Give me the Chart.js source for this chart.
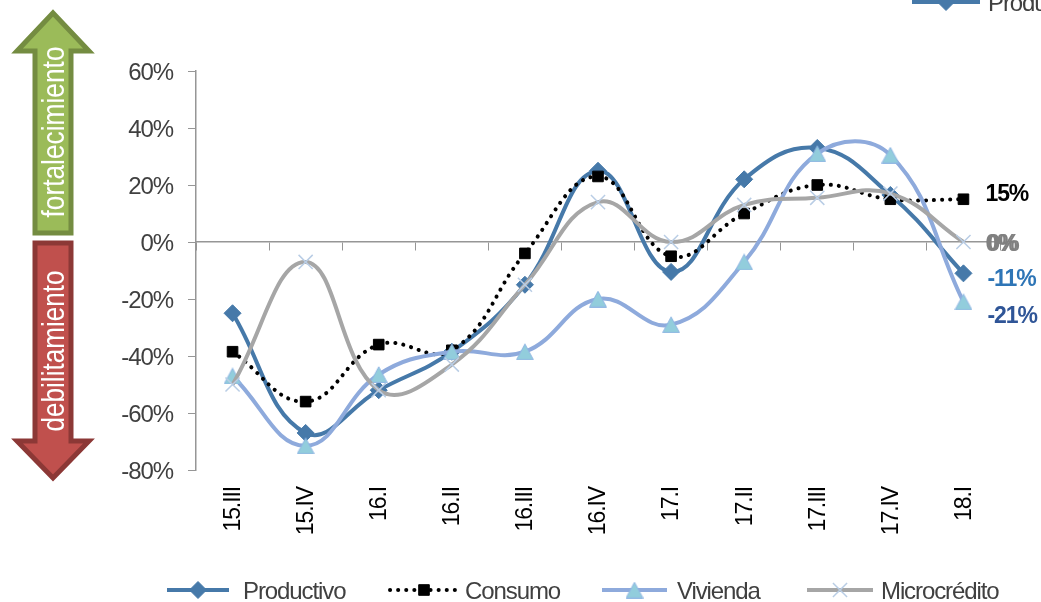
<!DOCTYPE html>
<html lang="es">
<head>
<meta charset="utf-8">
<title>Fortalecimiento y debilitamiento por cartera</title>
<script src="https://cdn.jsdelivr.net/npm/chart.js@4"></script>
<style>
    html, body { margin: 0; padding: 0; background: #fff; overflow: hidden; }
    #wrap { position: relative; width: 1041px; height: 602px; }
    #chart, #arrows { position: absolute; left: 0; top: 0; }
    #arrows text { font-family: "Liberation Sans", Arial, sans-serif; font-size: 32px; fill: #fff; text-anchor: middle; }
</style>
</head>
<body>
<div id="wrap">
    <canvas id="chart" width="1041" height="602"></canvas>
    <svg id="arrows" width="120" height="500">
        <path d="M53 13 L89 51 L71 51 L71 233 L35 233 L35 51 L17 51 Z" fill="#9bbb59" stroke="#748c41" stroke-width="5"/>
        <path d="M35 243 L71 243 L71 441 L89 441 L53 478 L17 441 L35 441 Z" fill="#c0504d" stroke="#8c3836" stroke-width="5"/>
        <text transform="translate(64 132) rotate(-90)" textLength="171" lengthAdjust="spacingAndGlyphs">fortalecimiento</text>
        <text transform="translate(64 351) rotate(-90)" textLength="161" lengthAdjust="spacingAndGlyphs">debilitamiento</text>
    </svg>
</div>
<script>
"use strict";

const categories = ["15.III", "15.IV", "16.I", "16.II", "16.III", "16.IV", "17.I", "17.II", "17.III", "17.IV", "18.I"];
const productivo = [-25, -67, -52, -38.5, -15, 25, -10.5, 22, 33, 16.5, -11];
const consumo = [-38.5, -56, -36, -38, -4, 23, -5, 10, 20, 15, 15];
const vivienda = [-47, -71.5, -46.5, -38.5, -38.5, -20, -29, -7, 31, 30.5, -21];
const microcredito = [-50, -7, -52, -43, -15, 14, 0, 13, 15.5, 17, 0];
const yTicks = [-80, -60, -40, -20, 0, 20, 40, 60];

const FONT = '"Liberation Sans", Arial, sans-serif';
const AXIS_GREY = "#969696";
const TEXT_GREY = "#404040";

// value labels to the right of the last quarter: dataset index, text, colour, offset from the point
const endLabels = [
    { series: 1, text: "15%", color: "#000000", dx: 22, dy: -5 },
    { series: 3, text: "0%", color: "#808080", dx: 24, dy: 3 },
    { series: 3, text: "0%", color: "#808080", dx: 22, dy: 3 },
    { series: 0, text: "-11%", color: "#2e75b6", dx: 24, dy: 6 },
    { series: 2, text: "-21%", color: "#2f5597", dx: 24, dy: 15 }
];

// legend row at the bottom, and the stray copy of the first entry cut off at the top right
const legendEntries = [
    { series: 0, x1: 167, x2: 229, text: 243, y: 590 },
    { series: 1, x1: 390, x2: 458, text: 465, y: 590 },
    { series: 2, x1: 602, x2: 667, text: 677, y: 590 },
    { series: 3, x1: 807, x2: 873, text: 881, y: 590 },
    { series: 0, x1: 912, x2: 980, text: 988, y: 2 }
];

/**
 * The Excel triangle sits centred on its point, the built in one does not.
 */
function triangleMarker() {
    const marker = document.createElement("canvas");
    marker.width = 18;
    marker.height = 17;
    const ctx = marker.getContext("2d");
    ctx.fillStyle = "#92cddc";
    ctx.strokeStyle = "#8eb4e3";
    ctx.lineWidth = 1;
    ctx.beginPath();
    ctx.moveTo(9, 0.8);
    ctx.lineTo(17.4, 16.4);
    ctx.lineTo(0.6, 16.4);
    ctx.closePath();
    ctx.fill();
    ctx.stroke();
    return marker;
}

/**
 * Draws the end labels and the legend, the swatches copy the style of each dataset.
 */
const annotations = {
    id: "annotations",
    beforeDraw: function (chart) {
        chart.ctx.letterSpacing = "-1.1px";
    },
    afterDatasetsDraw: function (chart) {
        const ctx = chart.ctx;
        const last = categories.length - 1;

        ctx.save();
        ctx.textBaseline = "middle";
        ctx.textAlign = "left";
        ctx.font = "bold 23px " + FONT;
        endLabels.forEach(function (label) {
            const ds = chart.data.datasets[label.series];
            ctx.fillStyle = label.color;
            ctx.fillText(label.text,
                chart.scales.x.getPixelForValue(last) + label.dx,
                chart.scales.y.getPixelForValue(ds.data[last]) + label.dy);
        });

        ctx.font = "24px " + FONT;
        legendEntries.forEach(function (entry) {
            const ds = chart.data.datasets[entry.series];
            ctx.save();
            ctx.strokeStyle = ds.borderColor;
            ctx.lineWidth = ds.borderWidth;
            ctx.lineCap = ds.borderCapStyle || "butt";
            ctx.setLineDash(ds.borderDash || []);
            ctx.beginPath();
            ctx.moveTo(entry.x1, entry.y);
            ctx.lineTo(entry.x2, entry.y);
            ctx.stroke();
            ctx.restore();

            ctx.save();
            ctx.fillStyle = ds.pointBackgroundColor;
            ctx.strokeStyle = ds.pointBorderColor;
            ctx.lineWidth = ds.pointBorderWidth;
            Chart.helpers.drawPoint(ctx, { pointStyle: ds.pointStyle, radius: ds.pointRadius, rotation: 0, borderWidth: ds.pointBorderWidth },
                (entry.x1 + entry.x2) / 2, entry.y);
            ctx.restore();

            ctx.fillStyle = TEXT_GREY;
            ctx.fillText(ds.label, entry.text, entry.y + 2);
        });
        ctx.restore();
    }
};

new Chart(document.getElementById("chart"), {
    type: "line",
    data: {
        labels: categories,
        datasets: [
            {
                label: "Productivo", data: productivo, order: 4,
                borderColor: "#4679a9", borderWidth: 4,
                pointStyle: "rectRot", pointRadius: 8.5, pointBackgroundColor: "#4679a9", pointBorderColor: "#4679a9", pointBorderWidth: 1
            },
            {
                label: "Consumo", data: consumo, order: 3,
                borderColor: "#000000", borderWidth: 4, borderDash: [0.1, 8], borderCapStyle: "round",
                pointStyle: "rect", pointRadius: 7.5, pointBackgroundColor: "#000000", pointBorderColor: "#000000", pointBorderWidth: 1
            },
            {
                label: "Vivienda", data: vivienda, order: 2,
                borderColor: "#8eaadc", borderWidth: 4,
                pointStyle: triangleMarker(), pointRadius: 10, pointBackgroundColor: "#92cddc", pointBorderColor: "#8eb4e3", pointBorderWidth: 1
            },
            {
                label: "Microcrédito", data: microcredito, order: 1,
                borderColor: "#a6a6a6", borderWidth: 4,
                pointStyle: "crossRot", pointRadius: 10, pointBackgroundColor: "#b9cde5", pointBorderColor: "#b9cde5", pointBorderWidth: 1.5
            }
        ]
    },
    plugins: [annotations],
    options: {
        responsive: false,
        animation: false,
        layout: { padding: { top: 71, right: 41, left: 0, bottom: 0 } },
        elements: { line: { tension: 0.42 } },
        plugins: { legend: { display: false }, tooltip: { enabled: false } },
        scales: {
            x: {
                offset: true,
                border: { display: false },
                grid: { display: false },
                afterFit: function (scale) { scale.height = 132; },
                ticks: {
                    autoSkip: false, minRotation: 90, maxRotation: 90, padding: 9, labelOffset: 1,
                    color: "#000000", font: { family: FONT, size: 23 }
                }
            },
            // the visible category axis crosses at 0%, tick marks only
            zero: {
                type: "category",
                axis: "x",
                labels: categories,
                position: { y: 0 },
                offset: true,
                border: { display: true, color: AXIS_GREY, width: 1.5 },
                grid: { offset: true, drawOnChartArea: false, color: AXIS_GREY, tickLength: 8 },
                ticks: { display: false, autoSkip: false }
            },
            y: {
                min: -80,
                max: 60,
                afterFit: function (scale) { scale.width = 196; },
                afterBuildTicks: function (scale) {
                    scale.ticks = yTicks.map(function (v) { return { value: v }; });
                },
                border: { color: AXIS_GREY, width: 1.5 },
                grid: { drawOnChartArea: false, color: AXIS_GREY, tickLength: 8 },
                ticks: {
                    padding: 15, labelOffset: 2.5, color: TEXT_GREY, font: { family: FONT, size: 24 },
                    callback: function (value) { return value + "%"; }
                }
            }
        }
    }
});
</script>
</body>
</html>
